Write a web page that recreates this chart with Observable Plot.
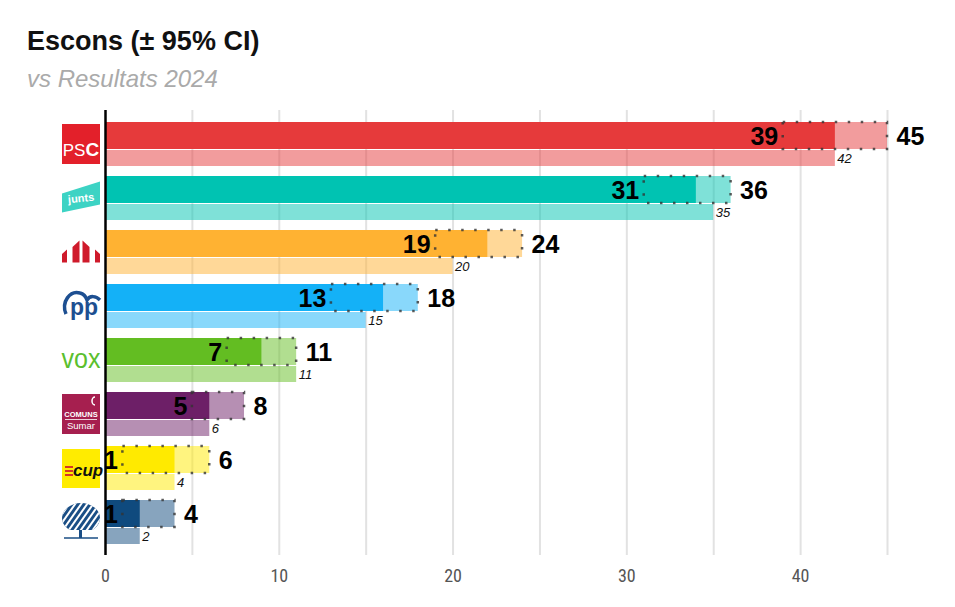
<!DOCTYPE html>
<html>
<head>
<meta charset="utf-8">
<script src="https://cdn.jsdelivr.net/npm/d3@7"></script>
<script src="https://cdn.jsdelivr.net/npm/@observablehq/plot@0.6"></script>
<style>
  body { margin: 0; background: #fff; font-family: "Liberation Sans", Arial, sans-serif; }
  #wrap { position: relative; width: 955px; height: 607px; }
  #title { position: absolute; left: 27px; top: 26px; font-size: 27px; font-weight: bold; color: #111; white-space: nowrap; }
  #subtitle { position: absolute; left: 27px; top: 65px; font-size: 24px; font-style: italic; color: #aaa; white-space: nowrap; }
  #chart { position: absolute; left: 0; top: 100px; }
</style>
</head>
<body>
<div id="wrap">
  <div id="title">Escons (± 95% CI)</div>
  <div id="subtitle">vs Resultats 2024</div>
  <div id="chart"></div>
</div>
<script>
const parties = ["PSC", "Junts", "ERC", "PP", "VOX", "Comuns", "CUP", "AC"];
const lower = [39, 31, 19, 13, 7, 5, 1, 1];
const estimate = [42, 34, 22, 16, 9, 6, 4, 2];
const upper = [45, 36, 24, 18, 11, 8, 6, 4];
const results2024 = [42, 35, 20, 15, 11, 6, 4, 2];
const colors = ["#e63a3b", "#00c3b2", "#ffb232", "#14b1f7", "#63bd22", "#6d1f67", "#ffea00", "#0f4a7e"];
const xTicks = [0, 10, 20, 30, 40];
const gridTicks = [5, 10, 15, 20, 25, 30, 35, 40, 45];

const data = parties.map((p, i) => ({
  party: p, lower: lower[i], estimate: estimate[i], upper: upper[i],
  prev: results2024[i], color: colors[i]
}));

const plot = Plot.plot({
  width: 955,
  height: 500,
  marginLeft: 105,
  marginRight: 68,
  marginTop: 10,
  marginBottom: 45,
  style: { fontFamily: "'Liberation Sans', Arial, sans-serif", color: "#555", background: "transparent" },
  x: { domain: [0, 45], axis: null },
  y: { domain: parties, axis: null, paddingInner: 0.19, paddingOuter: 0.21 },
  color: { type: "identity" },
  marks: [
    Plot.gridX(gridTicks, { stroke: "#e2e2e2", strokeOpacity: 1, strokeWidth: 2 }),
    Plot.axisX(xTicks, {
      tickSize: 0, tickPadding: 14, fontSize: 18, label: null,
      fontFamily: "'Liberation Sans Narrow', 'Roboto Condensed', 'DejaVu Sans Condensed', sans-serif",
      fill: "#555"
    }),
    // 2024 results (lower thin bar)
    Plot.barX(data, { y: "party", x: "prev", fill: "color", fillOpacity: 0.5, insetTop: 28 }),
    // upper CI extension (light)
    Plot.barX(data, { y: "party", x: "upper", fill: "color", fillOpacity: 0.5, insetBottom: 17 }),
    // point estimate (solid)
    Plot.barX(data, { y: "party", x: "estimate", fill: "color", insetBottom: 17 }),
    // CI dotted box
    Plot.barX(data, {
      y: "party", x1: "lower", x2: "upper", fill: "none", stroke: "#333", strokeOpacity: 0.8,
      strokeWidth: 2.5, strokeDasharray: "2.5,10.5", insetBottom: 17
    }),
    Plot.ruleX([0], { stroke: "black", strokeWidth: 2.5 }),
    // lower CI label
    Plot.text(data, {
      y: "party", x: "lower", text: d => String(d.lower), textAnchor: "end", dx: -5, dy: -8,
      fontSize: 25, fontWeight: "bold", fill: "black"
    }),
    // upper CI label
    Plot.text(data, {
      y: "party", x: "upper", text: d => String(d.upper), textAnchor: "start", dx: 9, dy: -8,
      fontSize: 25, fontWeight: "bold", fill: "black"
    }),
    // 2024 label
    Plot.text(data, {
      y: "party", x: "prev", text: d => String(d.prev), textAnchor: "start", dx: 2, dy: 14.5,
      fontSize: 13, fontStyle: "italic", fill: "#111"
    })
  ]
});

document.getElementById("chart").appendChild(plot);

// Party logos drawn beside each row
const ys = plot.scale("y");
const svg = d3.select(plot);
const g = svg.append("g").attr("class", "logos").attr("text-anchor", "middle");
const cyOf = p => ys.apply(p) + ys.bandwidth / 2;
const cx = 81;

function logoPSC(cy) {
  g.append("rect").attr("x", 62).attr("y", cy - 20).attr("width", 38).attr("height", 40).attr("fill", "#e3202a");
  const t = g.append("text").attr("x", cx).attr("y", cy + 12).attr("text-anchor", "middle")
    .attr("fill", "white").attr("font-size", 17);
  t.append("tspan").text("PS");
  t.append("tspan").attr("font-weight", "bold").attr("font-size", 19).text("C");
}
function logoJunts(cy) {
  g.append("polygon").attr("points", `62,${cy - 4.5} 100,${cy - 16.5} 100,${cy + 6.5} 62,${cy + 14.5}`).attr("fill", "#3dd3c4");
  g.append("text").attr("x", cx).attr("y", cy + 4).attr("text-anchor", "middle").attr("fill", "white")
    .attr("font-size", 11).attr("font-weight", "bold").attr("transform", `rotate(-6 ${cx} ${cy})`).text("junts");
}
function logoERC(cy) {
  const c = "#cf1a2b";
  const pts = [
    `62,${cy + 10.5} 62,${cy + 2} 67,${cy - 2.5} 67,${cy + 10.5}`,
    `72.5,${cy + 10.5} 72.5,${cy - 5} 79.5,${cy - 11.5} 79.5,${cy + 10.5}`,
    `82.5,${cy + 10.5} 82.5,${cy - 11.5} 89.5,${cy - 5} 89.5,${cy + 10.5}`,
    `95,${cy + 10.5} 95,${cy - 2.5} 100,${cy + 2} 100,${cy + 10.5}`
  ];
  pts.forEach(p => g.append("polygon").attr("points", p).attr("fill", c));
}
function logoPP(cy) {
  const c = "#1d4f91";
  g.append("path").attr("d", `M66,${cy + 8} C61,${cy - 4} 70,${cy - 16} 80,${cy - 13} C84,${cy - 12} 86,${cy - 9} 87,${cy - 6} C90,${cy - 11} 96,${cy - 10} 100,${cy - 6}`)
    .attr("fill", "none").attr("stroke", c).attr("stroke-width", 3.5);
  g.append("text").attr("x", 84).attr("y", cy + 9).attr("text-anchor", "middle").attr("fill", c)
    .attr("font-size", 23).attr("font-weight", "bold").text("pp");
}
function logoVOX(cy) {
  g.append("text").attr("x", cx).attr("y", cy + 8).attr("text-anchor", "middle").attr("fill", "#5bbf2e")
    .attr("font-size", 27).attr("textLength", 39).attr("lengthAdjust", "spacingAndGlyphs").text("vox");
}
function logoComuns(cy) {
  g.append("rect").attr("x", 62).attr("y", cy - 20).attr("width", 38).attr("height", 40).attr("fill", "#a61f4f");
  g.append("path").attr("d", `M95,${cy - 17} a3,4 0 1 0 0,8`).attr("fill", "none").attr("stroke", "white").attr("stroke-width", 1.5);
  g.append("text").attr("x", cx).attr("y", cy + 2.5).attr("text-anchor", "middle").attr("fill", "white")
    .attr("font-size", 7.5).attr("font-weight", "bold").text("COMUNS");
  g.append("line").attr("x1", 65).attr("x2", 97).attr("y1", cy + 5.5).attr("y2", cy + 5.5).attr("stroke", "white").attr("stroke-width", 0.8);
  g.append("text").attr("x", cx).attr("y", cy + 15).attr("text-anchor", "middle").attr("fill", "white")
    .attr("font-size", 9.5).text("Sumar");
}
function logoCUP(cy) {
  g.append("rect").attr("x", 62).attr("y", cy - 19).attr("width", 38).attr("height", 39).attr("fill", "#ffec00");
  [-1, 3, 7].forEach(d => g.append("line").attr("x1", 65).attr("x2", 73).attr("y1", cy + d).attr("y2", cy + d)
    .attr("stroke", "#d2232a").attr("stroke-width", 1.8));
  g.append("text").attr("x", 73).attr("y", cy + 8).attr("text-anchor", "start").attr("fill", "#111").attr("font-size", 17)
    .attr("font-weight", "bold").attr("font-style", "italic").text("cup");
}
function logoAC(cy) {
  const c = "#1a4e85";
  const id = "acclip";
  svg.append("defs").append("clipPath").attr("id", id)
    .append("ellipse").attr("cx", cx).attr("cy", cy - 4).attr("rx", 19).attr("ry", 15);
  const gg = g.append("g").attr("clip-path", `url(#${id})`);
  gg.append("rect").attr("x", 60).attr("y", cy - 22).attr("width", 42).attr("height", 30).attr("fill", c);
  for (let k = -30; k <= 40; k += 6) {
    gg.append("line").attr("x1", 60 + k).attr("y1", cy + 12).attr("x2", 60 + k + 24).attr("y2", cy - 22)
      .attr("stroke", "white").attr("stroke-width", 2);
  }
  g.append("rect").attr("x", 79).attr("y", cy + 8).attr("width", 3).attr("height", 8).attr("fill", c);
  g.append("line").attr("x1", 64).attr("x2", 98).attr("y1", cy + 16).attr("y2", cy + 16).attr("stroke", c).attr("stroke-width", 1.5);
}

logoPSC(cyOf("PSC"));
logoJunts(cyOf("Junts"));
logoERC(cyOf("ERC"));
logoPP(cyOf("PP"));
logoVOX(cyOf("VOX"));
logoComuns(cyOf("Comuns"));
logoCUP(cyOf("CUP"));
logoAC(cyOf("AC"));
</script>
</body>
</html>
